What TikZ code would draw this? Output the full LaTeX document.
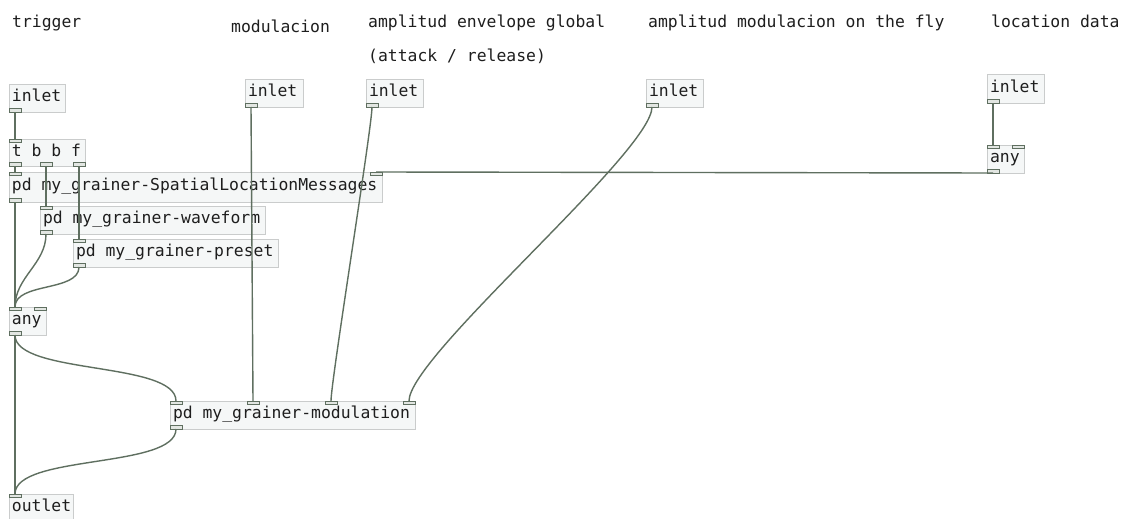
\documentclass[tikz,border=0pt]{standalone}
\usepackage{fontspec}
\setmonofont{DejaVu Sans Mono}
\definecolor{boxfill}{HTML}{F5F7F7}
\definecolor{boxline}{HTML}{CACCCC}
\definecolor{portline}{HTML}{5F6F60}
\definecolor{portfill}{HTML}{E2E6E2}
\definecolor{wirecol}{HTML}{5F6F60}
\definecolor{txt}{HTML}{1E1E1E}
\tikzset{
  pdbox/.style={draw=boxline, fill=boxfill, line width=0.9pt, anchor=north west,
    inner xsep=3pt, inner ysep=0pt, outer sep=0pt, font=\ttfamily\fontsize{16.4}{18}\selectfont,
    text=txt},
  pdport/.style={draw=portline, fill=portfill, line width=0.9pt, anchor=north west,
    minimum width=12pt, minimum height=3.5pt, inner sep=0pt, outer sep=0pt},
  wire/.style={draw=wirecol, line width=1.4pt},
  lbl/.style={anchor=base west, inner sep=0pt, font=\ttfamily\fontsize{16.4}{18}\selectfont, text=txt}
}
\newcommand\pdobj[6]{%
  \pgfmathsetmacro\pdw{#4-#2}\pgfmathsetmacro\pdh{#5-#3}\pgfmathsetmacro\pdtw{#4-#2-6}%
  \node[pdbox, minimum width=\pdw pt, minimum height=\pdh pt] (#1) at (#2,#3) {\strut\makebox[\pdtw pt][l]{#6}};}
\newcommand\pdport[3]{\node[pdport] (#1) at (#2,#3) {};}
\begin{document}
\begin{tikzpicture}[x=1pt,y=-1pt]
\useasboundingbox[fill=white] (0,0) rectangle (1122,519);
% labels
\node[lbl] (l1) at (12,28) {trigger};
\node[lbl] (l2) at (231,33) {modulacion};
\node[lbl] (l3) at (368,28) {amplitud envelope global};
\node[lbl] (l3b) at (368,62) {(attack / release)};
\node[lbl] (l4) at (648,28) {amplitud modulacion on the fly};
\node[lbl] (l5) at (991,28) {location data};
% boxes
\pdobj{trig}{9}{84}{65}{112}{inlet}
\pdobj{tbbf}{9}{139}{85}{166}{t b b f}
\pdobj{spat}{9}{172}{382}{202}{pd my\_grainer-SpatialLocationMessages}
\pdobj{wave}{40}{206}{265}{234}{pd my\_grainer-waveform}
\pdobj{pres}{73}{239}{278}{267}{pd my\_grainer-preset}
\pdobj{any}{9}{307}{46}{335}{any}
\pdobj{mod}{170}{401}{415}{429}{pd my\_grainer-modulation}
\pdobj{outl}{9}{494}{73}{522}{outlet}
\pdobj{inM}{245}{79}{303}{107}{inlet}
\pdobj{inA}{366}{79}{423}{107}{inlet}
\pdobj{inF}{646}{79}{703}{107}{inlet}
\pdobj{inL}{987}{74}{1044}{103}{inlet}
\pdobj{anyL}{987}{145}{1024}{173}{any}
% ports
\pdport{trig-o}{9}{108.5}
\pdport{tbbf-i}{9}{139}
\pdport{tbbf-o0}{9}{162.5}
\pdport{tbbf-o1}{40}{162.5}
\pdport{tbbf-o2}{73}{162.5}
\pdport{spat-i0}{9}{172}
\pdport{spat-i1}{370}{172}
\pdport{spat-o}{9}{198.5}
\pdport{wave-i}{40}{206}
\pdport{wave-o}{40}{230.5}
\pdport{pres-i}{73}{239}
\pdport{pres-o}{73}{263.5}
\pdport{any-i0}{9}{307}
\pdport{any-i1}{34}{307}
\pdport{any-o}{9}{331.5}
\pdport{mod-i0}{170}{401}
\pdport{mod-i1}{247}{401}
\pdport{mod-i2}{325}{401}
\pdport{mod-i3}{403}{401}
\pdport{mod-o}{170}{425.5}
\pdport{outl-i}{9}{494}
\pdport{inM-o}{245}{103.5}
\pdport{inA-o}{366}{103.5}
\pdport{inF-o}{646}{103.5}
\pdport{inL-o}{987}{99.5}
\pdport{anyL-i0}{987}{145}
\pdport{anyL-i1}{1012}{145}
\pdport{anyL-o}{987}{169.5}
% wires
\draw[wire] (trig-o.south) -- (tbbf-i.north);
\draw[wire] (tbbf-o0.south) -- (spat-i0.north);
\draw[wire] (tbbf-o1.south) -- (wave-i.north);
\draw[wire] (tbbf-o2.south) -- (pres-i.north);
\draw[wire] (spat-o.south) -- (any-i0.north);
\draw[wire] (wave-o.south) .. controls +(0,30) and +(0,-30) .. (any-i0.north);
\draw[wire] (pres-o.south) .. controls +(0,25) and +(0,-25) .. (any-i0.north);
\draw[wire] (any-o.south) .. controls +(0,40) and +(0,-40) .. (mod-i0.north);
\draw[wire] (any-o.south) -- (outl-i.north);
\draw[wire] (mod-o.south) .. controls +(0,40) and +(0,-40) .. (outl-i.north);
\draw[wire] (inM-o.south) -- (mod-i1.north);
\draw[wire] (inA-o.south) .. controls +(0,20) and +(0,-20) .. (mod-i2.north);
\draw[wire] (inF-o.south) .. controls +(0,45) and +(0,-45) .. (mod-i3.north);
\draw[wire] (inL-o.south) -- (anyL-i0.north);
\draw[wire] (anyL-o.south) -- (spat-i1.north);
\end{tikzpicture}
\end{document}
